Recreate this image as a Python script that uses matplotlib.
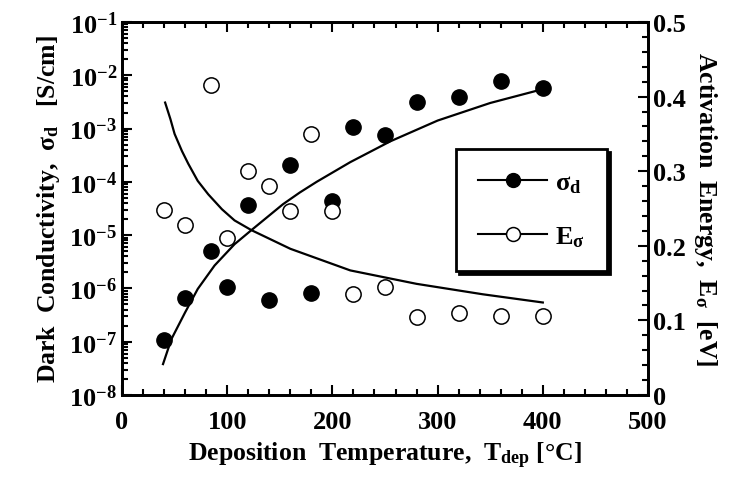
import matplotlib
matplotlib.use("Agg")
import matplotlib.pyplot as plt
from matplotlib.lines import Line2D
from matplotlib.ticker import MultipleLocator, LogLocator, NullFormatter

plt.rcParams['font.family'] = ['Liberation Serif', 'DejaVu Serif']
plt.rcParams['font.weight'] = 'bold'
plt.rcParams['axes.labelweight'] = 'bold'
plt.rcParams['mathtext.fontset'] = 'custom'
plt.rcParams['mathtext.rm'] = 'Liberation Serif:bold'
plt.rcParams['mathtext.it'] = 'Liberation Serif:bold'
plt.rcParams['mathtext.bf'] = 'Liberation Serif:bold'

# --- datos ---
T_pts = [40, 60, 85, 100, 120, 140, 160, 180, 200, 220, 250, 280, 320, 360, 400]
sigma_d = [1.07e-7, 6.5e-7, 5.0e-6, 1.07e-6, 3.6e-5, 6.0e-7, 2.1e-4, 8.2e-7, 4.4e-5,
           1.07e-3, 7.6e-4, 3.2e-3, 3.9e-3, 7.8e-3, 5.7e-3]
E_sigma = [0.248, 0.228, 0.416, 0.210, 0.300, 0.280, 0.247, 0.350, 0.247,
           0.135, 0.145, 0.105, 0.110, 0.106, 0.106]

# curvas de ajuste (sigma en exponente log10)
T_fit_s = [39, 47, 60, 72, 88, 107, 124, 153, 169, 185, 217, 255, 300, 350, 400]
log_sigma_fit = [-7.42, -6.95, -6.45, -6.01, -5.57, -5.17, -4.89, -4.42, -4.20,
                 -4.00, -3.63, -3.24, -2.85, -2.52, -2.26]
T_fit_e = [41, 46, 50, 57, 63, 72, 82, 95, 107, 123, 160, 217, 280, 343, 400]
E_fit = [0.392, 0.370, 0.350, 0.327, 0.310, 0.287, 0.269, 0.249, 0.234, 0.221,
         0.196, 0.167, 0.149, 0.135, 0.124]

sigma_fit = [10 ** v for v in log_sigma_fit]

fig = plt.figure(figsize=(7.47, 4.85), dpi=100)
ax = fig.add_axes([0.1633, 0.1835, 0.7042, 0.7691])
ax2 = ax.twinx()

ax.plot(T_fit_s, sigma_fit, color='black', lw=1.6)
ax.plot(T_pts, sigma_d, 'o', color='black', ms=11)
ax2.plot(T_fit_e, E_fit, color='black', lw=1.6)
ax2.plot(T_pts, E_sigma, 'o', mfc='white', mec='black', mew=1.1, ms=11)

ax.set_xlim(0, 500)
ax.set_yscale('log')
ax.set_ylim(1e-8, 1e-1)
ax2.set_ylim(0, 0.5)

ax.xaxis.set_major_locator(MultipleLocator(100))
ax.xaxis.set_minor_locator(MultipleLocator(20))
ax.yaxis.set_major_locator(LogLocator(base=10, numticks=10))
ax.yaxis.set_minor_locator(LogLocator(base=10, subs=range(2, 10), numticks=20))
ax.yaxis.set_minor_formatter(NullFormatter())
ax2.set_yticks([0, 0.1, 0.2, 0.3, 0.4, 0.5])
ax2.set_yticklabels(['0', '0.1', '0.2', '0.3', '0.4', '0.5'])
ax2.yaxis.set_minor_locator(MultipleLocator(0.02))

ax.tick_params(which='both', direction='in', top=True, labelsize=19, width=1.5)
ax.tick_params(axis='x', pad=11)
ax.tick_params(which='major', length=7)
ax.tick_params(which='minor', length=4)
ax2.tick_params(which='both', direction='in', labelsize=19, width=1.5)
ax2.tick_params(which='major', length=7)
ax2.tick_params(which='minor', length=4)
for a in (ax, ax2):
    for s in a.spines.values():
        s.set_linewidth(2)

ax.set_xlabel(r'Deposition  Temperature,  T$_{\mathrm{dep}}$ [°C]', fontsize=18.5, labelpad=5)
ax.set_ylabel(r'Dark  Conductivity,  $\sigma_{\mathrm{d}}$   [S/cm]', fontsize=18.5, labelpad=5)
ax2.set_ylabel(r'Activation  Energy,  E$_{\sigma}$  [eV]', fontsize=18.5, rotation=270, labelpad=24)

h1 = Line2D([], [], color='black', lw=1.5, marker='o', ms=10, mfc='black', mec='black')
h2 = Line2D([], [], color='black', lw=1.5, marker='o', ms=10, mfc='white', mec='black', mew=1.1)
leg = ax.legend([h1, h2], [r'$\sigma_{\mathrm{d}}$', r'E$_{\sigma}$'], loc='upper left',
                bbox_to_anchor=(0.635, 0.66), borderaxespad=0, fontsize=19, frameon=True,
                fancybox=False, edgecolor='black', borderpad=0.85, labelspacing=1.1,
                handlelength=2.6, handletextpad=0.3,
                shadow={'color': 'black', 'alpha': 1, 'shade': 0})
leg.get_frame().set_linewidth(2)

fig.savefig('out.png', dpi=100)
